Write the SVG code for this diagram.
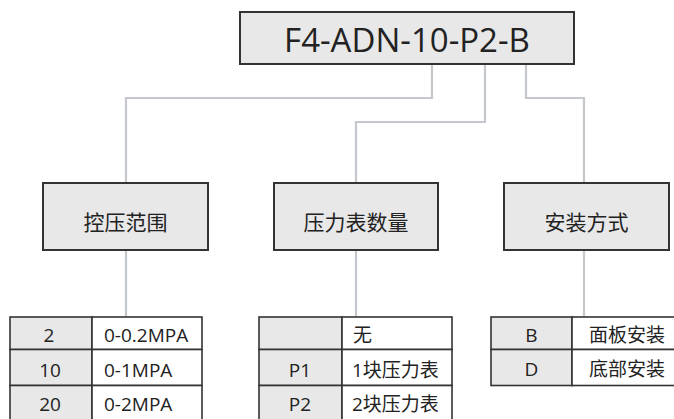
<svg xmlns="http://www.w3.org/2000/svg" width="674" height="419" viewBox="0 0 674 419">
<style>
.box{fill:#e8e8e8;stroke:#333;stroke-width:2}
.cell{stroke:#333;stroke-width:1.6}
.g{fill:#e8e8e8}
.w{fill:#fff}
.conn{fill:none;stroke:#c4c7cb;stroke-width:2.2}
text{font-family:"Open Sans","Noto Sans CJK SC",sans-serif;fill:#222}
.t{font-size:19px}
.n{font-size:21px;text-anchor:middle}
.c{text-anchor:middle}
</style>
<rect width="674" height="419" fill="#fff"/>
<g id="connectors">
<polyline class="conn" points="432,64 432,98 126,98 126,183"/>
<polyline class="conn" points="485,64 485,122 356,122 356,183"/>
<polyline class="conn" points="526,64 526,98 584,98 584,183"/>
<line class="conn" x1="126" y1="250" x2="126" y2="317"/>
<line class="conn" x1="356" y1="250" x2="356" y2="317"/>
<line class="conn" x1="584" y1="250" x2="584" y2="317"/>
</g>
<g id="root">
<rect class="box" x="240" y="12" width="334" height="52"/>
<text x="407" y="52" font-size="33" text-anchor="middle">F4-ADN-10-P2-B</text>
</g>
<g id="range">
<rect class="box" x="43" y="183" width="165" height="67"/>
<text class="n" x="125.5" y="229.5">控压范围</text>
</g>
<g id="gauges">
<rect class="box" x="274" y="183" width="164" height="67"/>
<text class="n" x="356" y="229.5">压力表数量</text>
</g>
<g id="mount">
<rect class="box" x="504" y="183" width="165" height="67"/>
<text class="n" x="586.5" y="229.5">安装方式</text>
</g>
<g id="range-table">
<rect class="cell g" x="10" y="317" width="82" height="32.5"/>
<rect class="cell w" x="92" y="317" width="110" height="32.5"/>
<rect class="cell g" x="10" y="349.5" width="82" height="36"/>
<rect class="cell w" x="92" y="349.5" width="110" height="36"/>
<rect class="cell g" x="10" y="385.5" width="82" height="40"/>
<rect class="cell w" x="92" y="385.5" width="110" height="40"/>
<text class="t c" x="49" y="342">2</text>
<text class="t" x="104" y="342">0-0.2MPA</text>
<text class="t c" x="50" y="377">10</text>
<text class="t" x="104" y="377">0-1MPA</text>
<text class="t c" x="50" y="411">20</text>
<text class="t" x="104" y="411">0-2MPA</text>
</g>
<g id="gauges-table">
<rect class="cell g" x="259" y="317" width="83" height="32.5"/>
<rect class="cell w" x="342" y="317" width="110" height="32.5"/>
<rect class="cell g" x="259" y="349.5" width="83" height="36"/>
<rect class="cell w" x="342" y="349.5" width="110" height="36"/>
<rect class="cell g" x="259" y="385.5" width="83" height="40"/>
<rect class="cell w" x="342" y="385.5" width="110" height="40"/>
<text class="t" x="353" y="342">无</text>
<text class="t c" x="300" y="377">P1</text>
<text class="t" x="352" y="377">1块压力表</text>
<text class="t c" x="300" y="411">P2</text>
<text class="t" x="352" y="411">2块压力表</text>
</g>
<g id="mount-table">
<rect class="cell g" x="491" y="317" width="81" height="32.5"/>
<rect class="cell w" x="572" y="317" width="110" height="32.5"/>
<rect class="cell g" x="491" y="349.5" width="81" height="36"/>
<rect class="cell w" x="572" y="349.5" width="110" height="36"/>
<text class="t c" x="531.5" y="342">B</text>
<text class="t" x="589" y="342">面板安装</text>
<text class="t c" x="531.5" y="376">D</text>
<text class="t" x="589" y="376">底部安装</text>
</g>
</svg>
